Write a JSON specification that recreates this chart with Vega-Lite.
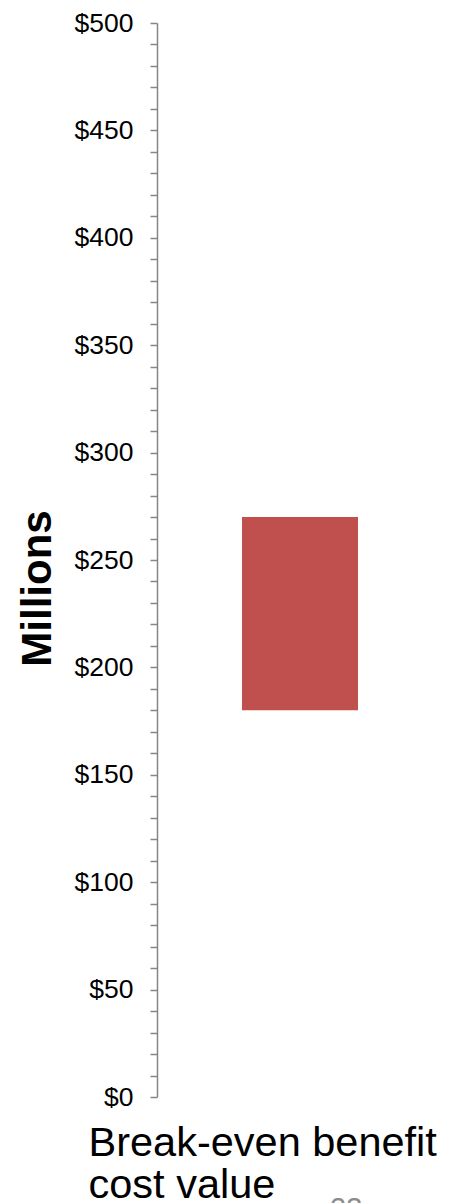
{
  "$schema": "https://vega.github.io/schema/vega-lite/v6.json",
  "autosize": "none",
  "width": 286,
  "height": 1074,
  "padding": {"left": 157, "top": 23, "right": 7, "bottom": 106},
  "background": "white",
  "config": {"view": {"stroke": null}, "font": "Liberation Sans"},
  "title": {
    "text": "23",
    "orient": "top",
    "anchor": "start",
    "frame": "group",
    "offset": 0,
    "dx": 173,
    "dy": 1237,
    "baseline": "alphabetic",
    "fontSize": 29,
    "fontWeight": "normal",
    "color": "#8c8c8c",
    "font": "Liberation Sans"
  },
  "data": {
    "values": [
      {"category": "Break-even benefit cost value", "low": 180, "high": 270}
    ]
  },
  "mark": {"type": "bar", "color": "#C0504D", "size": 116},
  "encoding": {
    "x": {
      "field": "category",
      "type": "nominal",
      "axis": {
        "title": ["Break-even benefit", "cost value"],
        "labels": false,
        "ticks": false,
        "domain": false,
        "titleFontSize": 41.5,
        "titleFontWeight": "normal",
        "titleColor": "black",
        "titleAlign": "left",
        "titleBaseline": "alphabetic",
        "titleAnchor": null,
        "titleX": -69,
        "titleY": 58,
        "titleLineHeight": 42,
        "titleFont": "Liberation Sans"
      }
    },
    "y": {
      "field": "low",
      "type": "quantitative",
      "scale": {"domain": [0, 500], "nice": false},
      "axis": {
        "title": "Millions",
        "titleFontSize": 42,
        "titleFontWeight": "bold",
        "titleColor": "black",
        "titleAngle": -90,
        "titleAlign": "center",
        "titleBaseline": "middle",
        "titleX": -120,
        "titleY": 565,
        "titleFont": "Liberation Sans",
        "values": [0,10,20,30,40,50,60,70,80,90,100,110,120,130,140,150,160,170,180,190,200,210,220,230,240,250,260,270,280,290,300,310,320,330,340,350,360,370,380,390,400,410,420,430,440,450,460,470,480,490,500],
        "labelExpr": "datum.value % 50 == 0 ? '$' + datum.value : ''",
        "labelOverlap": false,
        "labelFlush": false,
        "labelFontSize": 26.5,
        "labelColor": "black",
        "labelFont": "Liberation Sans",
        "labelPadding": 17,
        "tickSize": 7,
        "tickColor": "#868686",
        "tickWidth": 1.5,
        "domainColor": "#868686",
        "domainWidth": 1.5,
        "grid": false
      }
    },
    "y2": {"field": "high"}
  }
}
